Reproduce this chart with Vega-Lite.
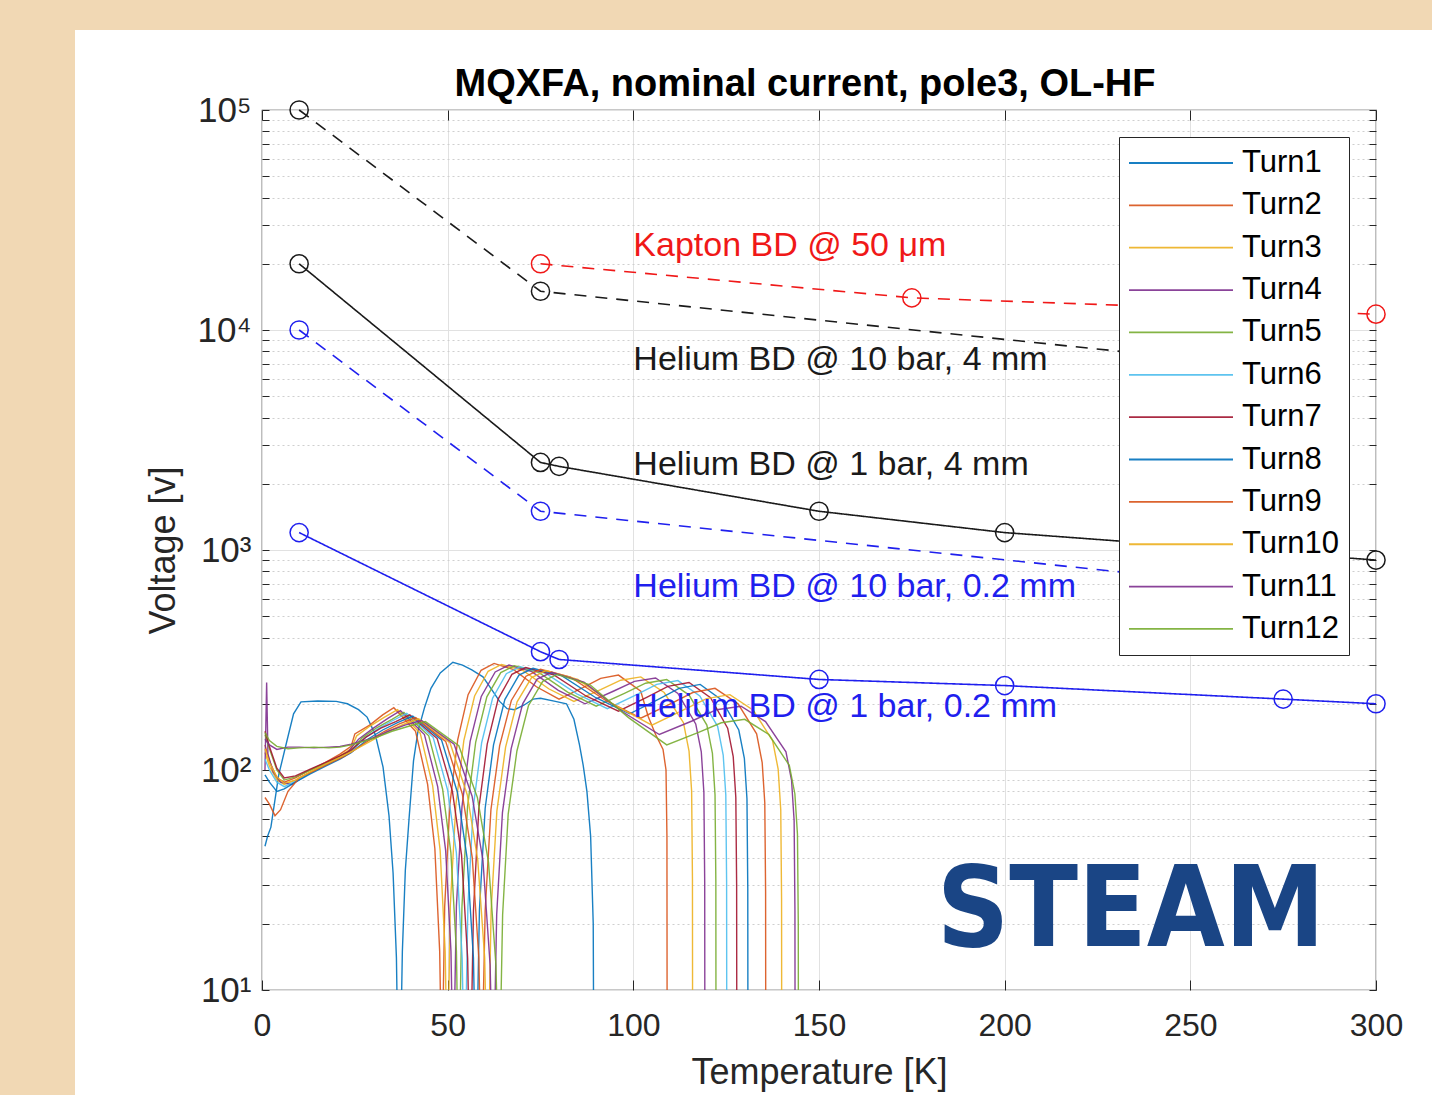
{
"$schema":"https://vega.github.io/schema/vega-lite/v6.json",
"width":1114,"height":880,
"autosize":{"type":"none"},
"padding":{"left":262,"top":110,"right":56,"bottom":105},
"background":"#ffffff",
"config":{
  "font":"Liberation Sans",
  "view":{"stroke":"#262626","strokeWidth":1.2,"fill":"#ffffff"},
  "axis":{"labelFont":"Liberation Sans","titleFont":"Liberation Sans","labelColor":"#262626","titleColor":"#262626","tickColor":"#262626","domain":false,"labelFlush":false,"labelOverlap":false,"titleFontWeight":"normal"}
},
"title":{"text":"MQXFA, nominal current, pole3, OL-HF","fontSize":38,"fontWeight":"bold","color":"#000000","offset":13,"dy":147,"baseline":"alphabetic","dx":-14,"frame":"group","font":"Liberation Sans"},
"resolve":{"axis":{"x":"independent","y":"independent"}},
"datasets":{
"turns":[
{"k":"Turn1","T":0.8,"V":45},{"k":"Turn1","T":1.5,"V":50},{"k":"Turn1","T":2.4,"V":55},{"k":"Turn1","T":4.5,"V":95},{"k":"Turn1","T":7,"V":142},{"k":"Turn1","T":8.5,"V":180},{"k":"Turn1","T":10.5,"V":204},{"k":"Turn1","T":15,"V":206},{"k":"Turn1","T":20,"V":205},{"k":"Turn1","T":23,"V":200},{"k":"Turn1","T":26,"V":188},{"k":"Turn1","T":28.3,"V":174},{"k":"Turn1","T":30.5,"V":145},{"k":"Turn1","T":32.6,"V":103},{"k":"Turn1","T":34.2,"V":62},{"k":"Turn1","T":35.3,"V":34},{"k":"Turn1","T":36.2,"V":14},{"k":"Turn1","T":36.6,"V":5},{"k":"Turn1","T":36.9,"V":1},{"k":"Turn1","T":37.3,"V":5},{"k":"Turn1","T":37.8,"V":15},{"k":"Turn1","T":38.6,"V":35},{"k":"Turn1","T":39.6,"V":60},{"k":"Turn1","T":40.8,"V":110},{"k":"Turn1","T":42,"V":150},{"k":"Turn1","T":43.8,"V":193},{"k":"Turn1","T":45.5,"V":235},{"k":"Turn1","T":48,"V":276},{"k":"Turn1","T":51.4,"V":309},{"k":"Turn1","T":54,"V":300},{"k":"Turn1","T":56.5,"V":285},{"k":"Turn1","T":59.5,"V":265},{"k":"Turn1","T":62,"V":230},{"k":"Turn1","T":64,"V":205},{"k":"Turn1","T":66,"V":190},{"k":"Turn1","T":68,"V":188},{"k":"Turn1","T":70.5,"V":197},{"k":"Turn1","T":73,"V":210},{"k":"Turn1","T":75,"V":212},{"k":"Turn1","T":79,"V":205},{"k":"Turn1","T":82,"V":200},{"k":"Turn1","T":84,"V":170},{"k":"Turn1","T":85.5,"V":130},{"k":"Turn1","T":86.5,"V":105},{"k":"Turn1","T":87.5,"V":80},{"k":"Turn1","T":88.5,"V":50},{"k":"Turn1","T":89.2,"V":20},{"k":"Turn1","T":89.5,"V":1},
{"k":"Turn2","T":0.8,"V":130},{"k":"Turn2","T":2,"V":110},{"k":"Turn2","T":4,"V":92},{"k":"Turn2","T":6,"V":88},{"k":"Turn2","T":9,"V":92},{"k":"Turn2","T":13,"V":100},{"k":"Turn2","T":17,"V":108},{"k":"Turn2","T":21,"V":118},{"k":"Turn2","T":24,"V":128},{"k":"Turn2","T":25,"V":146},{"k":"Turn2","T":29,"V":160},{"k":"Turn2","T":32.5,"V":178},{"k":"Turn2","T":35.5,"V":192},{"k":"Turn2","T":41.35,"V":150},{"k":"Turn2","T":44.6,"V":86},{"k":"Turn2","T":46.55,"V":44},{"k":"Turn2","T":47.85,"V":15},{"k":"Turn2","T":48.24,"V":6},{"k":"Turn2","T":48.5,"V":1},{"k":"Turn2","T":48.8,"V":9},{"k":"Turn2","T":49.2,"V":24},{"k":"Turn2","T":50.6,"V":70},{"k":"Turn2","T":52.7,"V":137},{"k":"Turn2","T":55.5,"V":220},{"k":"Turn2","T":59,"V":284},{"k":"Turn2","T":62.5,"V":305},{"k":"Turn2","T":67.75,"V":286},{"k":"Turn2","T":73.9,"V":239},{"k":"Turn2","T":80,"V":210},{"k":"Turn2","T":86.4,"V":237},{"k":"Turn2","T":91.2,"V":261},{"k":"Turn2","T":96,"V":270},{"k":"Turn2","T":102,"V":228},{"k":"Turn2","T":104,"V":175},{"k":"Turn2","T":106,"V":145},{"k":"Turn2","T":108,"V":124},{"k":"Turn2","T":108.8,"V":100},{"k":"Turn2","T":109.05,"V":50},{"k":"Turn2","T":109.15,"V":1},
{"k":"Turn3","T":0.8,"V":120},{"k":"Turn3","T":2,"V":104},{"k":"Turn3","T":4,"V":90},{"k":"Turn3","T":6,"V":86},{"k":"Turn3","T":9,"V":90},{"k":"Turn3","T":13,"V":98},{"k":"Turn3","T":17,"V":106},{"k":"Turn3","T":21,"V":116},{"k":"Turn3","T":24,"V":125},{"k":"Turn3","T":25.5,"V":143},{"k":"Turn3","T":29,"V":158},{"k":"Turn3","T":33,"V":174},{"k":"Turn3","T":36.5,"V":188},{"k":"Turn3","T":42.6,"V":147},{"k":"Turn3","T":45.95,"V":85},{"k":"Turn3","T":47.98,"V":43},{"k":"Turn3","T":49.33,"V":15},{"k":"Turn3","T":49.73,"V":6},{"k":"Turn3","T":50,"V":1},{"k":"Turn3","T":50.3,"V":9},{"k":"Turn3","T":50.7,"V":24},{"k":"Turn3","T":52.2,"V":69},{"k":"Turn3","T":54.35,"V":136},{"k":"Turn3","T":57.25,"V":217},{"k":"Turn3","T":60.9,"V":281},{"k":"Turn3","T":64.5,"V":302},{"k":"Turn3","T":70.35,"V":283},{"k":"Turn3","T":77.2,"V":234},{"k":"Turn3","T":84,"V":205},{"k":"Turn3","T":91.2,"V":232},{"k":"Turn3","T":96.6,"V":256},{"k":"Turn3","T":102,"V":265},{"k":"Turn3","T":108.3,"V":225},{"k":"Turn3","T":113.5,"V":164},{"k":"Turn3","T":115,"V":122},{"k":"Turn3","T":115.7,"V":80},{"k":"Turn3","T":115.92,"V":32},{"k":"Turn3","T":116,"V":1},
{"k":"Turn4","T":0.8,"V":100},{"k":"Turn4","T":1.25,"V":250},{"k":"Turn4","T":1.6,"V":118},{"k":"Turn4","T":3,"V":98},{"k":"Turn4","T":5,"V":88},{"k":"Turn4","T":8,"V":86},{"k":"Turn4","T":12,"V":95},{"k":"Turn4","T":16,"V":104},{"k":"Turn4","T":20,"V":113},{"k":"Turn4","T":23,"V":120},{"k":"Turn4","T":26,"V":138},{"k":"Turn4","T":30,"V":155},{"k":"Turn4","T":34,"V":172},{"k":"Turn4","T":37.3,"V":186},{"k":"Turn4","T":43.74,"V":145},{"k":"Turn4","T":47.31,"V":84},{"k":"Turn4","T":49.46,"V":43},{"k":"Turn4","T":50.89,"V":15},{"k":"Turn4","T":51.31,"V":6},{"k":"Turn4","T":51.6,"V":1},{"k":"Turn4","T":51.9,"V":9},{"k":"Turn4","T":52.35,"V":24},{"k":"Turn4","T":53.85,"V":68},{"k":"Turn4","T":56.05,"V":135},{"k":"Turn4","T":59.05,"V":216},{"k":"Turn4","T":62.8,"V":279},{"k":"Turn4","T":66.5,"V":300},{"k":"Turn4","T":72.65,"V":280},{"k":"Turn4","T":79.8,"V":230},{"k":"Turn4","T":87,"V":200},{"k":"Turn4","T":94.6,"V":228},{"k":"Turn4","T":100.3,"V":253},{"k":"Turn4","T":106,"V":262},{"k":"Turn4","T":112,"V":223},{"k":"Turn4","T":116.8,"V":162},{"k":"Turn4","T":118.3,"V":121},{"k":"Turn4","T":119,"V":79},{"k":"Turn4","T":119.22,"V":31},{"k":"Turn4","T":119.3,"V":1},
{"k":"Turn5","T":0.8,"V":145},{"k":"Turn5","T":2,"V":125},{"k":"Turn5","T":4,"V":100},{"k":"Turn5","T":6,"V":90},{"k":"Turn5","T":9,"V":93},{"k":"Turn5","T":13,"V":100},{"k":"Turn5","T":17,"V":107},{"k":"Turn5","T":21,"V":115},{"k":"Turn5","T":24,"V":122},{"k":"Turn5","T":27,"V":140},{"k":"Turn5","T":31,"V":156},{"k":"Turn5","T":35,"V":170},{"k":"Turn5","T":38.2,"V":183},{"k":"Turn5","T":44.9,"V":143},{"k":"Turn5","T":48.63,"V":82},{"k":"Turn5","T":50.87,"V":42},{"k":"Turn5","T":52.36,"V":15},{"k":"Turn5","T":52.8,"V":5},{"k":"Turn5","T":53.1,"V":1},{"k":"Turn5","T":53.4,"V":9},{"k":"Turn5","T":53.85,"V":24},{"k":"Turn5","T":55.35,"V":68},{"k":"Turn5","T":57.55,"V":134},{"k":"Turn5","T":60.55,"V":215},{"k":"Turn5","T":64.3,"V":277},{"k":"Turn5","T":68,"V":298},{"k":"Turn5","T":74.6,"V":277},{"k":"Turn5","T":82.3,"V":226},{"k":"Turn5","T":90,"V":195},{"k":"Turn5","T":97.6,"V":223},{"k":"Turn5","T":103.3,"V":248},{"k":"Turn5","T":109,"V":258},{"k":"Turn5","T":115,"V":219},{"k":"Turn5","T":119.8,"V":160},{"k":"Turn5","T":121.3,"V":119},{"k":"Turn5","T":122,"V":77},{"k":"Turn5","T":122.22,"V":31},{"k":"Turn5","T":122.3,"V":1},
{"k":"Turn6","T":0.8,"V":112},{"k":"Turn6","T":2,"V":100},{"k":"Turn6","T":4,"V":88},{"k":"Turn6","T":6,"V":84},{"k":"Turn6","T":9,"V":89},{"k":"Turn6","T":13,"V":97},{"k":"Turn6","T":17,"V":105},{"k":"Turn6","T":21,"V":113},{"k":"Turn6","T":24,"V":121},{"k":"Turn6","T":27.5,"V":139},{"k":"Turn6","T":31,"V":153},{"k":"Turn6","T":35,"V":167},{"k":"Turn6","T":39,"V":181},{"k":"Turn6","T":46.07,"V":141},{"k":"Turn6","T":49.99,"V":81},{"k":"Turn6","T":52.35,"V":42},{"k":"Turn6","T":53.9,"V":14},{"k":"Turn6","T":54.39,"V":5},{"k":"Turn6","T":54.7,"V":1},{"k":"Turn6","T":55,"V":9},{"k":"Turn6","T":55.45,"V":24},{"k":"Turn6","T":56.9,"V":68},{"k":"Turn6","T":59.15,"V":133},{"k":"Turn6","T":62.1,"V":212},{"k":"Turn6","T":65.8,"V":274},{"k":"Turn6","T":69.5,"V":295},{"k":"Turn6","T":76.55,"V":274},{"k":"Turn6","T":84.8,"V":222},{"k":"Turn6","T":93,"V":190},{"k":"Turn6","T":100.6,"V":219},{"k":"Turn6","T":106.3,"V":245},{"k":"Turn6","T":112,"V":255},{"k":"Turn6","T":117.9,"V":217},{"k":"Turn6","T":122.7,"V":158},{"k":"Turn6","T":124.2,"V":117},{"k":"Turn6","T":124.9,"V":77},{"k":"Turn6","T":125.12,"V":31},{"k":"Turn6","T":125.2,"V":1},
{"k":"Turn7","T":0.8,"V":150},{"k":"Turn7","T":2,"V":128},{"k":"Turn7","T":4,"V":102},{"k":"Turn7","T":6,"V":92},{"k":"Turn7","T":9,"V":94},{"k":"Turn7","T":13,"V":101},{"k":"Turn7","T":17,"V":108},{"k":"Turn7","T":21,"V":116},{"k":"Turn7","T":24,"V":123},{"k":"Turn7","T":28,"V":141},{"k":"Turn7","T":32,"V":155},{"k":"Turn7","T":36,"V":166},{"k":"Turn7","T":39.8,"V":178},{"k":"Turn7","T":47.18,"V":139},{"k":"Turn7","T":51.28,"V":80},{"k":"Turn7","T":53.74,"V":41},{"k":"Turn7","T":55.38,"V":14},{"k":"Turn7","T":55.87,"V":5},{"k":"Turn7","T":56.2,"V":1},{"k":"Turn7","T":56.5,"V":9},{"k":"Turn7","T":56.95,"V":23},{"k":"Turn7","T":58.4,"V":67},{"k":"Turn7","T":60.65,"V":131},{"k":"Turn7","T":63.6,"V":210},{"k":"Turn7","T":67.3,"V":272},{"k":"Turn7","T":71,"V":292},{"k":"Turn7","T":78.5,"V":271},{"k":"Turn7","T":87.25,"V":217},{"k":"Turn7","T":96,"V":185},{"k":"Turn7","T":103.6,"V":214},{"k":"Turn7","T":109.3,"V":240},{"k":"Turn7","T":115,"V":250},{"k":"Turn7","T":120.8,"V":213},{"k":"Turn7","T":125.4,"V":155},{"k":"Turn7","T":126.9,"V":115},{"k":"Turn7","T":127.6,"V":75},{"k":"Turn7","T":127.82,"V":30},{"k":"Turn7","T":127.9,"V":1},
{"k":"Turn8","T":0.8,"V":95},{"k":"Turn8","T":2,"V":88},{"k":"Turn8","T":4,"V":80},{"k":"Turn8","T":6,"V":82},{"k":"Turn8","T":9,"V":88},{"k":"Turn8","T":13,"V":96},{"k":"Turn8","T":17,"V":104},{"k":"Turn8","T":21,"V":112},{"k":"Turn8","T":24,"V":120},{"k":"Turn8","T":28.5,"V":138},{"k":"Turn8","T":32.5,"V":152},{"k":"Turn8","T":36.5,"V":164},{"k":"Turn8","T":40.6,"V":176},{"k":"Turn8","T":48.34,"V":137},{"k":"Turn8","T":52.64,"V":79},{"k":"Turn8","T":55.22,"V":40},{"k":"Turn8","T":56.94,"V":14},{"k":"Turn8","T":57.46,"V":5},{"k":"Turn8","T":57.8,"V":1},{"k":"Turn8","T":58.1,"V":9},{"k":"Turn8","T":58.55,"V":23},{"k":"Turn8","T":60.1,"V":67},{"k":"Turn8","T":62.35,"V":130},{"k":"Turn8","T":65.4,"V":209},{"k":"Turn8","T":69.2,"V":270},{"k":"Turn8","T":73,"V":290},{"k":"Turn8","T":80.8,"V":268},{"k":"Turn8","T":89.9,"V":213},{"k":"Turn8","T":99,"V":180},{"k":"Turn8","T":106.6,"V":209},{"k":"Turn8","T":112.3,"V":235},{"k":"Turn8","T":118,"V":245},{"k":"Turn8","T":123.8,"V":208},{"k":"Turn8","T":128.4,"V":152},{"k":"Turn8","T":129.9,"V":113},{"k":"Turn8","T":130.6,"V":74},{"k":"Turn8","T":130.82,"V":29},{"k":"Turn8","T":130.9,"V":1},
{"k":"Turn9","T":0.8,"V":75},{"k":"Turn9","T":2,"V":70},{"k":"Turn9","T":3.5,"V":62},{"k":"Turn9","T":5,"V":66},{"k":"Turn9","T":7,"V":80},{"k":"Turn9","T":10,"V":92},{"k":"Turn9","T":14,"V":99},{"k":"Turn9","T":18,"V":107},{"k":"Turn9","T":22,"V":115},{"k":"Turn9","T":24.5,"V":122},{"k":"Turn9","T":29,"V":137},{"k":"Turn9","T":33,"V":150},{"k":"Turn9","T":37,"V":162},{"k":"Turn9","T":41.4,"V":173},{"k":"Turn9","T":49.46,"V":135},{"k":"Turn9","T":53.93,"V":78},{"k":"Turn9","T":56.62,"V":40},{"k":"Turn9","T":58.4,"V":14},{"k":"Turn9","T":58.94,"V":5},{"k":"Turn9","T":59.3,"V":1},{"k":"Turn9","T":59.6,"V":9},{"k":"Turn9","T":60.1,"V":23},{"k":"Turn9","T":61.65,"V":66},{"k":"Turn9","T":64,"V":129},{"k":"Turn9","T":67.15,"V":207},{"k":"Turn9","T":71.1,"V":267},{"k":"Turn9","T":75,"V":287},{"k":"Turn9","T":83.1,"V":264},{"k":"Turn9","T":92.55,"V":207},{"k":"Turn9","T":102,"V":172},{"k":"Turn9","T":110,"V":200},{"k":"Turn9","T":116,"V":225},{"k":"Turn9","T":122,"V":235},{"k":"Turn9","T":128.2,"V":200},{"k":"Turn9","T":133.2,"V":146},{"k":"Turn9","T":134.7,"V":108},{"k":"Turn9","T":135.4,"V":71},{"k":"Turn9","T":135.62,"V":28},{"k":"Turn9","T":135.7,"V":1},
{"k":"Turn10","T":0.8,"V":125},{"k":"Turn10","T":2,"V":108},{"k":"Turn10","T":4,"V":93},{"k":"Turn10","T":6,"V":87},{"k":"Turn10","T":9,"V":90},{"k":"Turn10","T":13,"V":98},{"k":"Turn10","T":17,"V":106},{"k":"Turn10","T":21,"V":114},{"k":"Turn10","T":24,"V":121},{"k":"Turn10","T":29.5,"V":136},{"k":"Turn10","T":34,"V":150},{"k":"Turn10","T":38,"V":161},{"k":"Turn10","T":42.2,"V":171},{"k":"Turn10","T":50.62,"V":133},{"k":"Turn10","T":55.29,"V":77},{"k":"Turn10","T":58.1,"V":39},{"k":"Turn10","T":59.97,"V":14},{"k":"Turn10","T":60.53,"V":5},{"k":"Turn10","T":60.9,"V":1},{"k":"Turn10","T":61.2,"V":8},{"k":"Turn10","T":61.7,"V":23},{"k":"Turn10","T":63.25,"V":65},{"k":"Turn10","T":65.6,"V":127},{"k":"Turn10","T":68.7,"V":204},{"k":"Turn10","T":72.6,"V":263},{"k":"Turn10","T":76.5,"V":283},{"k":"Turn10","T":85.05,"V":258},{"k":"Turn10","T":95,"V":197},{"k":"Turn10","T":105,"V":160},{"k":"Turn10","T":113.4,"V":187},{"k":"Turn10","T":119.7,"V":211},{"k":"Turn10","T":126,"V":220},{"k":"Turn10","T":132.3,"V":187},{"k":"Turn10","T":137.5,"V":136},{"k":"Turn10","T":139,"V":101},{"k":"Turn10","T":139.7,"V":66},{"k":"Turn10","T":139.92,"V":26},{"k":"Turn10","T":140,"V":1},
{"k":"Turn11","T":0.8,"V":138},{"k":"Turn11","T":2,"V":130},{"k":"Turn11","T":4,"V":124},{"k":"Turn11","T":7,"V":127},{"k":"Turn11","T":10,"V":127},{"k":"Turn11","T":14,"V":126},{"k":"Turn11","T":18,"V":127},{"k":"Turn11","T":21,"V":128},{"k":"Turn11","T":24,"V":131},{"k":"Turn11","T":30,"V":140},{"k":"Turn11","T":34,"V":150},{"k":"Turn11","T":38.5,"V":160},{"k":"Turn11","T":43,"V":168},{"k":"Turn11","T":51.73,"V":131},{"k":"Turn11","T":56.58,"V":76},{"k":"Turn11","T":59.49,"V":39},{"k":"Turn11","T":61.43,"V":13},{"k":"Turn11","T":62.01,"V":5},{"k":"Turn11","T":62.4,"V":1},{"k":"Turn11","T":62.7,"V":8},{"k":"Turn11","T":63.2,"V":22},{"k":"Turn11","T":64.75,"V":64},{"k":"Turn11","T":67.1,"V":125},{"k":"Turn11","T":70.2,"V":200},{"k":"Turn11","T":74.1,"V":259},{"k":"Turn11","T":78,"V":278},{"k":"Turn11","T":86.7,"V":251},{"k":"Turn11","T":96.85,"V":185},{"k":"Turn11","T":107,"V":145},{"k":"Turn11","T":115.8,"V":167},{"k":"Turn11","T":122.4,"V":188},{"k":"Turn11","T":129,"V":195},{"k":"Turn11","T":135.6,"V":166},{"k":"Turn11","T":141.1,"V":121},{"k":"Turn11","T":142.6,"V":90},{"k":"Turn11","T":143.3,"V":59},{"k":"Turn11","T":143.52,"V":23},{"k":"Turn11","T":143.6,"V":1},
{"k":"Turn12","T":0.8,"V":148},{"k":"Turn12","T":2,"V":136},{"k":"Turn12","T":4,"V":128},{"k":"Turn12","T":7,"V":125},{"k":"Turn12","T":10,"V":126},{"k":"Turn12","T":14,"V":127},{"k":"Turn12","T":18,"V":126},{"k":"Turn12","T":21,"V":127},{"k":"Turn12","T":24,"V":130},{"k":"Turn12","T":30,"V":139},{"k":"Turn12","T":35,"V":150},{"k":"Turn12","T":39.5,"V":158},{"k":"Turn12","T":44,"V":166},{"k":"Turn12","T":53,"V":129},{"k":"Turn12","T":58,"V":75},{"k":"Turn12","T":61,"V":38},{"k":"Turn12","T":63,"V":13},{"k":"Turn12","T":63.6,"V":5},{"k":"Turn12","T":64,"V":1},{"k":"Turn12","T":64.3,"V":8},{"k":"Turn12","T":64.8,"V":22},{"k":"Turn12","T":66.3,"V":63},{"k":"Turn12","T":68.65,"V":122},{"k":"Turn12","T":71.75,"V":196},{"k":"Turn12","T":75.6,"V":253},{"k":"Turn12","T":79.5,"V":272},{"k":"Turn12","T":88.35,"V":244},{"k":"Turn12","T":98.7,"V":173},{"k":"Turn12","T":109,"V":130},{"k":"Turn12","T":117.4,"V":148},{"k":"Turn12","T":123.7,"V":164},{"k":"Turn12","T":130,"V":170},{"k":"Turn12","T":136.5,"V":145},{"k":"Turn12","T":142,"V":105},{"k":"Turn12","T":143.5,"V":78},{"k":"Turn12","T":144.2,"V":51},{"k":"Turn12","T":144.42,"V":20},{"k":"Turn12","T":144.5,"V":1}
],
"bd":[
{"k":"kap","T":75,"V":20000},{"k":"kap","T":175,"V":14000},{"k":"kap","T":300,"V":11800},
{"k":"he10_4","T":10,"V":100000},{"k":"he10_4","T":75,"V":15000},{"k":"he10_4","T":275,"V":6700},
{"k":"he1_4","T":10,"V":20000},{"k":"he1_4","T":75,"V":2500},{"k":"he1_4","T":80,"V":2400},{"k":"he1_4","T":150,"V":1500},{"k":"he1_4","T":200,"V":1200},{"k":"he1_4","T":300,"V":900},
{"k":"he10_02","T":10,"V":10000},{"k":"he10_02","T":75,"V":1500},{"k":"he10_02","T":275,"V":665},
{"k":"he1_02","T":10,"V":1200},{"k":"he1_02","T":75,"V":345},{"k":"he1_02","T":80,"V":318},{"k":"he1_02","T":150,"V":258},{"k":"he1_02","T":200,"V":242},{"k":"he1_02","T":275,"V":210},{"k":"he1_02","T":300,"V":200}
],
"notes":[
{"k":"kap","T":100,"V":24090,"txt":"Kapton BD @ 50 μm"},
{"k":"he10_4","T":100,"V":7305,"txt":"Helium BD @ 10 bar, 4 mm"},
{"k":"he1_4","T":100,"V":2434,"txt":"Helium BD @ 1 bar, 4 mm"},
{"k":"he10_02","T":100,"V":679,"txt":"Helium BD @ 10 bar, 0.2 mm"},
{"k":"he1_02","T":100,"V":193,"txt":"Helium BD @ 1 bar, 0.2 mm"}
],
"logo":[{"T":234,"V":15.85,"txt":"STEAM"}],
"frame":[{"T":-80,"T2":330,"V":316228,"V2":231013},{"T":-80,"T2":-50.36,"V":316228,"V2":1}]
},
"encoding":{
  "x":{"field":"T","type":"quantitative","scale":{"domain":[0,300],"nice":false,"zero":false},"axis":null},
  "y":{"field":"V","type":"quantitative","scale":{"type":"log","domain":[10,100000],"nice":false},"axis":null}
},
"layer":[
{"data":{"name":"turns"},"mark":{"type":"line","clip":true,"strokeWidth":1.4,"opacity":0.9},
 "encoding":{
  "x":{"field":"T","type":"quantitative","scale":{"domain":[0,300],"nice":false,"zero":false},
       "axis":{"orient":"bottom","title":"Temperature [K]","values":[0,50,100,150,200,250,300],"grid":true,"gridColor":"#e1e1e1","tickSize":-10,"labelFontSize":32,"labelPadding":30,"titleFontSize":36,"titlePadding":14}},
  "y":{"field":"V","type":"quantitative","scale":{"type":"log","domain":[10,100000],"nice":false},
       "axis":{"orient":"left","title":"Voltage [v]","values":[10,20,30,40,50,60,70,80,90,100,200,300,400,500,600,700,800,900,1000,2000,3000,4000,5000,6000,7000,8000,9000,10000,20000,30000,40000,50000,60000,70000,80000,90000,100000],
       "grid":true,
       "gridColor":{"condition":{"test":"indexof([10,100,1000,10000,100000],datum.value)<0","value":"#cfcfcf"},"value":"#e1e1e1"},
       "gridDash":{"condition":{"test":"indexof([10,100,1000,10000,100000],datum.value)<0","value":[2,3]},"value":[]},
       "tickSize":-7,"labelFontSize":35,"labelPadding":18,
       "labelExpr":"datum.value==10?'10¹':datum.value==100?'10²':datum.value==1000?'10³':datum.value==10000?'10⁴':datum.value==100000?'10⁵':''",
       "titleFontSize":36,"titlePadding":15}},
  "color":{"field":"k","type":"nominal",
   "scale":{"domain":["Turn1","Turn2","Turn3","Turn4","Turn5","Turn6","Turn7","Turn8","Turn9","Turn10","Turn11","Turn12","kap","he10_4","he1_4","he10_02","he1_02"],
            "range":["#0072BD","#D95319","#EDB120","#7E2F8E","#77AC30","#4DBEEE","#A2142F","#0072BD","#D95319","#EDB120","#7E2F8E","#77AC30","#F01818","#1a1a1a","#1a1a1a","#1f1fee","#1f1fee"]},
   "legend":{"values":["Turn1","Turn2","Turn3","Turn4","Turn5","Turn6","Turn7","Turn8","Turn9","Turn10","Turn11","Turn12"],"title":null,"orient":"top-right","offset":27,"symbolType":"stroke","symbolSize":10816,"symbolStrokeWidth":1.8,"clipHeight":34,"rowPadding":8.36,"labelFontSize":31,"labelFont":"Liberation Sans","labelColor":"#000000","labelOffset":8,"padding":9,"strokeColor":"#262626","fillColor":"#ffffff"}}}},
{"data":{"name":"bd"},"mark":{"type":"line","strokeWidth":1.6},
 "encoding":{
  "x":{"field":"T","type":"quantitative","scale":{"domain":[0,300],"nice":false,"zero":false},
       "axis":{"orient":"top","title":null,"values":[0,50,100,150,200,250,300],"grid":false,"labels":false,"tickSize":-10}},
  "y":{"field":"V","type":"quantitative","scale":{"type":"log","domain":[10,100000],"nice":false},
       "axis":{"orient":"right","title":null,"values":[10,20,30,40,50,60,70,80,90,100,200,300,400,500,600,700,800,900,1000,2000,3000,4000,5000,6000,7000,8000,9000,10000,20000,30000,40000,50000,60000,70000,80000,90000,100000],"grid":false,"labels":false,"tickSize":-7}},
  "color":{"field":"k","type":"nominal","legend":null},
  "strokeDash":{"field":"k","type":"nominal","scale":{"domain":["kap","he10_4","he1_4","he10_02","he1_02"],"range":[[12,9],[12,9],[1,0],[12,9],[1,0]]},"legend":null}}},
{"data":{"name":"bd"},"mark":{"type":"point","shape":"circle","filled":false,"size":330,"strokeWidth":1.5,"opacity":1},
 "encoding":{"color":{"field":"k","type":"nominal","legend":null}}},
{"data":{"name":"notes"},"mark":{"type":"text","align":"left","baseline":"middle","fontSize":34,"font":"Liberation Sans"},
 "encoding":{"text":{"field":"txt"},"color":{"field":"k","type":"nominal","legend":null}}},
{"data":{"name":"logo"},"mark":{"type":"text","align":"center","baseline":"alphabetic","fontSize":112,"fontWeight":"bold","font":"DejaVu Sans Condensed, Liberation Sans","color":"#1a4585"},
 "encoding":{"text":{"field":"txt"}}},
{"data":{"name":"frame"},"mark":{"type":"rect","color":"#F1D8B4"},
 "encoding":{"x2":{"field":"T2"},"y2":{"field":"V2"}}}
]
}
